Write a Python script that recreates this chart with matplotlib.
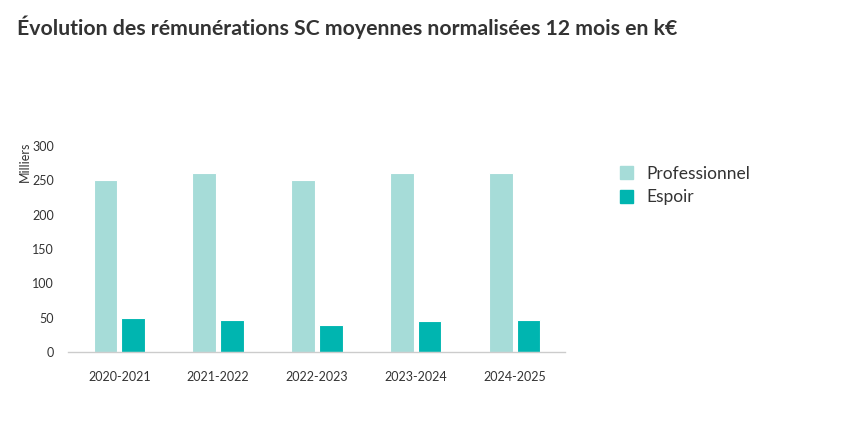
import matplotlib.pyplot as plt
from matplotlib.patches import Patch
import numpy as np

plt.rcParams['font.family'] = ['Lato', 'DejaVu Sans']

saisons = ["2020-2021", "2021-2022", "2022-2023", "2023-2024", "2024-2025"]
professionnel = [250, 260, 250, 260, 260]
espoir = [50, 47, 39, 45, 47]
yticks = [0, 50, 100, 150, 200, 250, 300]

COL_PRO = "#A6DCD8"
COL_ESP = "#00B5B0"
TXT = "#333333"

fig = plt.figure(figsize=(8.44, 4.22), dpi=100)
ax = fig.add_axes([68 / 844, 1 - 352 / 422, 497 / 844, 206 / 422])

x = np.arange(len(saisons))
w = 0.24
ax.bar(x - 0.14, professionnel, w, color=COL_PRO, edgecolor="white", linewidth=0.8)
ax.bar(x + 0.14, espoir, w, color=COL_ESP, edgecolor="white", linewidth=0.8)

ax.set_xlim(-0.52, 4.51)
ax.set_ylim(0, 300)
ax.set_yticks(yticks)
ax.set_xticks(x)
ax.set_xticklabels(saisons)
ax.tick_params(axis="y", length=0, pad=10, labelsize=9, labelcolor=TXT)
ax.tick_params(axis="x", length=0, pad=14, labelsize=9, labelcolor=TXT)
for s in ["top", "right", "left"]:
    ax.spines[s].set_visible(False)
ax.spines["bottom"].set_color("#cccccc")
ax.spines["bottom"].set_linewidth(1)

fig.text(25 / 844, 1 - 142 / 422, "Milliers", rotation=90, ha="center", va="top",
         fontsize=9, color=TXT)

fig.text(17 / 844, 1 - 27 / 422, "Évolution des rémunérations SC moyennes normalisées 12 mois en k€",
         fontsize=15.3, fontweight="bold", color=TXT, ha="left", va="center")

handles = [Patch(color=COL_PRO, label="Professionnel"), Patch(color=COL_ESP, label="Espoir")]
fig.legend(handles=handles, loc="upper left", bbox_to_anchor=(604 / 844, 1 - 150 / 422),
           frameon=False, fontsize=12.5, handlelength=0.75, handleheight=0.75,
           handletextpad=0.8, labelspacing=0.45, labelcolor=TXT)

fig.savefig("out.png", dpi=100)
